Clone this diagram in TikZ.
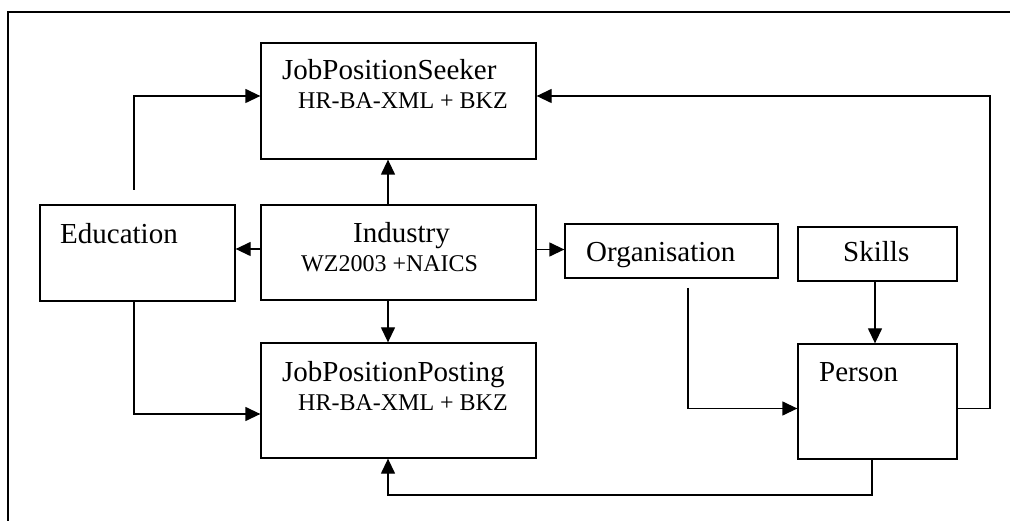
\documentclass[tikz,border=0pt]{standalone}
\usepackage{fontspec}
\setmainfont{Liberation Serif}
\usetikzlibrary{arrows.meta}
\begin{document}
\begin{tikzpicture}[x=1pt,y=-1pt,
  box/.style={draw, line width=1.3pt, inner sep=0pt, minimum width=#1},
  conn/.style={line width=1.3pt},
  arr/.style={conn, -{Triangle[length=15pt,width=14pt]}},
  big/.style={inner sep=0pt, anchor=base west, font=\fontsize{29}{34}\selectfont},
  small/.style={inner sep=0pt, anchor=base west, font=\fontsize{24}{28}\selectfont}]
\useasboundingbox (0,0) rectangle (1010,521);
% outer frame (top and left edges)
\draw[conn] (8,521) -- (8,12) -- (1010,12);

% boxes
\node[box=275pt, minimum height=116pt] (seeker)    at (398.5,101)   {};
\node[box=275pt, minimum height=95pt]  (industry)  at (398.5,252.5) {};
\node[box=275pt, minimum height=115pt] (posting)   at (398.5,400.5) {};
\node[box=195pt, minimum height=96pt]  (education) at (137.5,253)   {};
\node[box=213pt, minimum height=54pt]  (org)       at (671.5,251)   {};
\node[box=159pt, minimum height=54pt]  (skills)    at (877.5,254)   {};
\node[box=159pt, minimum height=115pt] (person)    at (877.5,401.5) {};

% labels
\node[big]   (tSeeker)  at (282,80)  {JobPositionSeeker};
\node[small] (sSeeker)  at (298,109) {HR-BA-XML + BKZ};
\node[big]   (tInd)     at (353,243) {Industry};
\node[small] (sInd)     at (301,272) {WZ2003 +NAICS};
\node[big]   (tPost)    at (282,382) {JobPositionPosting};
\node[small] (sPost)    at (298,410) {HR-BA-XML + BKZ};
\node[big]   (tEdu)     at (60,244)  {Education};
\node[big]   (tOrg)     at (586,262) {Organisation};
\node[big]   (tSkills)  at (843,262) {Skills};
\node[big]   (tPerson)  at (819,382) {Person};

% connector end points
\coordinate (eduTop)  at (134,190);
\coordinate (orgLow)  at (688,288);
\coordinate (railTop) at (990,96);
\coordinate (railLow) at (872,495);

% connectors
\draw[arr] (eduTop) |- ([yshift=5pt]seeker.west);
\draw[arr] ([xshift=-3.5pt]education.south) |- ([yshift=-13.5pt]posting.west);
\draw[arr] ([xshift=-10.5pt]industry.north) -- ([xshift=-10.5pt]seeker.south);
\draw[arr] ([xshift=-10.5pt]industry.south) -- ([xshift=-10.5pt]posting.north);
\draw[arr] ([yshift=3.5pt]industry.west) -- ([yshift=3.5pt]industry.west -| education.east);
\draw[arr] ([yshift=3pt]industry.east) -- ([yshift=3pt]industry.east -| org.west);
\draw[arr] (orgLow) |- ([yshift=-7pt]person.west);
\draw[arr] ([xshift=-2.5pt]skills.south) -- ([xshift=-2.5pt]skills.south |- person.north);
\draw[arr] ([yshift=-7pt]person.east) -| (railTop) -- ([yshift=5pt]seeker.east);
\draw[arr] ([xshift=-5.5pt]person.south) -- (railLow) -| ([xshift=-10.5pt]posting.south);
\end{tikzpicture}
\end{document}
